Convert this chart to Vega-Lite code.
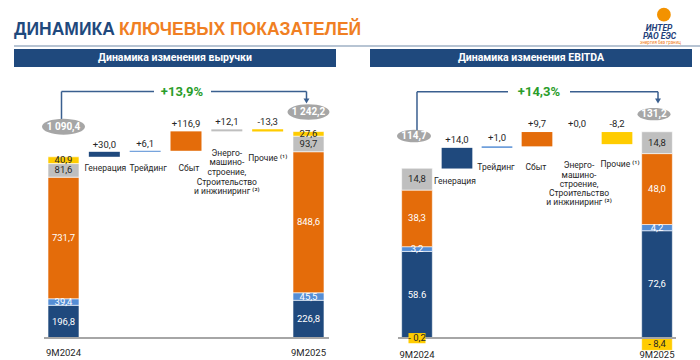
{
"$schema": "https://vega.github.io/schema/vega-lite/v6.json",
"background": "white",
"padding": {"left": 13, "top": 0, "right": 0, "bottom": 0},
"bounds": "flush",
"spacing": 3,
"config": {"view": {"stroke": null}, "font": "Roboto"},
"datasets": {
 "revStack": [
  {"x": "9M2024", "seg": "Генерация", "o": 1, "v": 196.8, "lbl": "196,8"},
  {"x": "9M2024", "seg": "Трейдинг", "o": 2, "v": 39.4, "lbl": "39,4"},
  {"x": "9M2024", "seg": "Сбыт", "o": 3, "v": 731.7, "lbl": "731,7"},
  {"x": "9M2024", "seg": "Энерго", "o": 4, "v": 81.6, "lbl": "81,6"},
  {"x": "9M2024", "seg": "Прочие", "o": 5, "v": 40.9, "lbl": "40,9"},
  {"x": "9M2025", "seg": "Генерация", "o": 1, "v": 226.8, "lbl": "226,8"},
  {"x": "9M2025", "seg": "Трейдинг", "o": 2, "v": 45.5, "lbl": "45,5"},
  {"x": "9M2025", "seg": "Сбыт", "o": 3, "v": 848.6, "lbl": "848,6"},
  {"x": "9M2025", "seg": "Энерго", "o": 4, "v": 93.7, "lbl": "93,7"},
  {"x": "9M2025", "seg": "Прочие", "o": 5, "v": 27.6, "lbl": "27,6"}
 ],
 "revWf": [
  {"x": "Генерация", "seg": "Генерация", "start": 1090.4, "end": 1120.4, "lbl": "+30,0", "cat": "Генерация"},
  {"x": "Трейдинг", "seg": "Трейдинг", "start": 1120.4, "end": 1126.5, "lbl": "+6,1", "cat": "Трейдинг"},
  {"x": "Сбыт", "seg": "Сбыт", "start": 1126.5, "end": 1243.4, "lbl": "+116,9", "cat": "Сбыт"},
  {"x": "Энерго", "seg": "Энерго", "start": 1243.4, "end": 1255.5, "lbl": "+12,1", "cat": ["Энерго-", "машино-", "строение,", "Строительство", "и инжиниринг ⁽²⁾"]},
  {"x": "Прочие", "seg": "Прочие", "start": 1255.5, "end": 1242.2, "lbl": "-13,3", "cat": "Прочие ⁽¹⁾"}
 ],
 "revTot": [
  {"x": "9M2024", "v": 1090.4, "lbl": "1 090,4"},
  {"x": "9M2025", "v": 1242.2, "lbl": "1 242,2"}
 ],
 "revPct": [{"lbl": "+13,9%"}],
 "ebStack": [
  {"x": "9M2024", "seg": "Генерация", "o": 1, "v": 58.6, "lbl": "58.6"},
  {"x": "9M2024", "seg": "Трейдинг", "o": 2, "v": 3.2, "lbl": "3,2"},
  {"x": "9M2024", "seg": "Сбыт", "o": 3, "v": 38.3, "lbl": "38,3"},
  {"x": "9M2024", "seg": "Энерго", "o": 4, "v": 14.8, "lbl": "14,8"},
  {"x": "9M2024", "seg": "Прочие", "o": 5, "v": -0.2, "lbl": "- 0,2"},
  {"x": "9M2025", "seg": "Генерация", "o": 1, "v": 72.6, "lbl": "72,6"},
  {"x": "9M2025", "seg": "Трейдинг", "o": 2, "v": 4.2, "lbl": "4,2"},
  {"x": "9M2025", "seg": "Сбыт", "o": 3, "v": 48.0, "lbl": "48,0"},
  {"x": "9M2025", "seg": "Энерго", "o": 4, "v": 14.8, "lbl": "14,8"},
  {"x": "9M2025", "seg": "Прочие", "o": 5, "v": -8.4, "lbl": "- 8,4"}
 ],
 "ebWf": [
  {"x": "Генерация", "seg": "Генерация", "start": 114.7, "end": 128.7, "lbl": "+14,0", "cat": "Генерация"},
  {"x": "Трейдинг", "seg": "Трейдинг", "start": 128.7, "end": 129.7, "lbl": "+1,0", "cat": "Трейдинг"},
  {"x": "Сбыт", "seg": "Сбыт", "start": 129.7, "end": 139.4, "lbl": "+9,7", "cat": "Сбыт"},
  {"x": "Энерго", "seg": "Энерго", "start": 139.4, "end": 139.4, "lbl": "+0,0", "cat": ["Энерго-", "машино-", "строение,", "Строительство", "и инжиниринг ⁽²⁾"]},
  {"x": "Прочие", "seg": "Прочие", "start": 139.4, "end": 131.2, "lbl": "-8,2", "cat": "Прочие ⁽¹⁾"}
 ],
 "ebTot": [
  {"x": "9M2024", "v": 114.7, "lbl": "114,7"},
  {"x": "9M2025", "v": 131.2, "lbl": "131,2"}
 ],
 "ebPct": [{"lbl": "+14,3%"}]
},
"vconcat": [
 {
  "width": 687, "height": 46,
  "data": {"values": [{}]},
  "layer": [
   {"mark": {"type": "rule", "color": "#9fb0c4", "strokeWidth": 1.5},
    "encoding": {"y": {"datum": 0, "type": "quantitative", "scale": {"domain": [0, 100]}, "axis": null}}},
   {"mark": {"type": "text", "text": "ДИНАМИКА", "align": "left", "baseline": "middle", "font": "Liberation Sans", "fontWeight": "bold", "fontSize": 17.5, "color": "#1f497d"},
    "encoding": {"x": {"datum": 0, "type": "quantitative", "scale": {"domain": [0, 100]}, "axis": null}, "y": {"datum": 35, "type": "quantitative", "axis": null}}},
   {"mark": {"type": "text", "text": "КЛЮЧЕВЫХ ПОКАЗАТЕЛЕЙ", "align": "left", "baseline": "middle", "font": "Liberation Sans", "fontWeight": "bold", "fontSize": 17.5, "color": "#f07f23"},
    "encoding": {"x": {"datum": 15.28, "type": "quantitative", "axis": null}, "y": {"datum": 35, "type": "quantitative", "axis": null}}},
   {"mark": {"type": "point", "shape": "circle", "filled": true, "opacity": 1, "size": 190, "color": "#f39200"},
    "encoding": {"x": {"datum": 94.6, "type": "quantitative", "axis": null}, "y": {"datum": 68, "type": "quantitative", "axis": null}}},
   {"mark": {"type": "text", "text": "ИНТЕР", "baseline": "middle", "fontWeight": "bold", "fontStyle": "italic", "fontSize": 8.5, "color": "#1f3f7a"},
    "encoding": {"x": {"datum": 93.9, "type": "quantitative", "axis": null}, "y": {"datum": 40, "type": "quantitative", "axis": null}}},
   {"mark": {"type": "text", "text": "РАО ЕЭС", "baseline": "middle", "fontWeight": "bold", "fontStyle": "italic", "fontSize": 8.5, "color": "#1f3f7a"},
    "encoding": {"x": {"datum": 93.96, "type": "quantitative", "axis": null}, "y": {"datum": 21, "type": "quantitative", "axis": null}}},
   {"mark": {"type": "text", "text": "энергия без границ", "baseline": "middle", "fontSize": 4.5, "color": "#f07f23"},
    "encoding": {"x": {"datum": 94.1, "type": "quantitative", "axis": null}, "y": {"datum": 6, "type": "quantitative", "axis": null}}}
  ]
 },
 {
  "hconcat": [
   {
    "width": 322, "height": 289,
    "data": {"values": [{}]},
    "layer": [
     {"mark": {"type": "rect", "color": "#1f497d"},
      "encoding": {"y": {"datum": 1739, "type": "quantitative", "scale": {"domain": [0, 1739], "nice": false, "zero": false},
        "axis": {"title": "млрд рублей", "titleAngle": 0, "titleAlign": "left", "titleBaseline": "middle", "titleX": 2, "titleY": 29, "titleFontSize": 9, "titleFontWeight": "bold", "titleColor": "#1a1a1a", "labels": false, "ticks": false, "domain": false, "grid": false}},
       "y2": {"datum": 1630.6}}},
     {"mark": {"type": "text", "text": "Динамика изменения выручки", "color": "white", "fontWeight": "bold", "fontSize": 10.5, "baseline": "middle"},
      "encoding": {"y": {"datum": 1684.7, "type": "quantitative", "axis": null}}},
     {"data": {"name": "revStack"},
      "mark": {"type": "bar", "stroke": "white", "strokeWidth": 0.6},
      "encoding": {
       "x": {"field": "x", "type": "nominal", "scale": {"domain": ["9M2024", "Генерация", "Трейдинг", "Сбыт", "Энерго", "Прочие", "9M2025"], "paddingInner": 0.241, "paddingOuter": 0.5635, "align": 0.739}, "axis": null},
       "y": {"field": "v", "type": "quantitative", "stack": "zero", "axis": null},
       "color": {"field": "seg", "type": "nominal", "scale": {"domain": ["Генерация", "Трейдинг", "Сбыт", "Энерго", "Прочие"], "range": ["#1f497d", "#558ed5", "#e46c0a", "#bfbfbf", "#ffcc00"]}, "legend": null},
       "order": {"field": "o", "type": "quantitative"}}},
     {"data": {"name": "revStack"},
      "mark": {"type": "text", "fontSize": 9.5, "baseline": "middle"},
      "encoding": {
       "x": {"field": "x", "type": "nominal", "axis": null},
       "y": {"field": "v", "type": "quantitative", "stack": "zero", "bandPosition": 0.5, "axis": null},
       "detail": {"field": "seg", "type": "nominal"},
       "order": {"field": "o", "type": "quantitative"},
       "text": {"field": "lbl"},
       "color": {"condition": {"test": "datum.o>=4", "value": "#262626"}, "value": "white"}}},
     {"data": {"name": "revWf"},
      "mark": {"type": "bar"},
      "encoding": {
       "x": {"field": "x", "type": "nominal", "axis": null},
       "y": {"field": "start", "type": "quantitative", "axis": null},
       "y2": {"field": "end"},
       "color": {"field": "seg", "type": "nominal", "legend": null}}},
     {"data": {"name": "revWf"}, "transform": [{"filter": "datum.end>=datum.start"}],
      "mark": {"type": "text", "fontSize": 9.5, "baseline": "bottom", "dy": -2, "color": "#262626"},
      "encoding": {"x": {"field": "x", "type": "nominal", "axis": null}, "y": {"field": "end", "type": "quantitative", "axis": null}, "text": {"field": "lbl"}}},
     {"data": {"name": "revWf"}, "transform": [{"filter": "datum.end<datum.start"}],
      "mark": {"type": "text", "fontSize": 9.5, "baseline": "bottom", "dy": -2, "color": "#262626"},
      "encoding": {"x": {"field": "x", "type": "nominal", "axis": null}, "y": {"field": "start", "type": "quantitative", "axis": null}, "text": {"field": "lbl"}}},
     {"data": {"name": "revWf"}, "transform": [{"filter": "datum.x=='Генерация'"}],
      "mark": {"type": "text", "fontSize": 8.5, "baseline": "middle", "color": "#262626", "dx": 1},
      "encoding": {"x": {"field": "x", "type": "nominal", "axis": null}, "y": {"datum": 1022.9, "type": "quantitative", "axis": null}, "text": {"field": "cat"}}},
     {"data": {"name": "revWf"}, "transform": [{"filter": "datum.x=='Трейдинг'||datum.x=='Сбыт'"}],
      "mark": {"type": "text", "fontSize": 8.5, "baseline": "middle", "color": "#262626", "dx": 3},
      "encoding": {"x": {"field": "x", "type": "nominal", "axis": null}, "y": {"datum": 1022.9, "type": "quantitative", "axis": null}, "text": {"field": "cat"}}},
     {"data": {"name": "revWf"}, "transform": [{"filter": "datum.x=='Энерго'"}],
      "mark": {"type": "text", "fontSize": 8.5, "baseline": "top", "lineHeight": 9.7, "color": "#262626"},
      "encoding": {"x": {"field": "x", "type": "nominal", "axis": null}, "y": {"datum": 1140.2, "type": "quantitative", "axis": null}, "text": {"field": "cat"}}},
     {"data": {"name": "revWf"}, "transform": [{"filter": "datum.x=='Прочие'"}],
      "mark": {"type": "text", "fontSize": 8.5, "baseline": "middle", "color": "#262626"},
      "encoding": {"x": {"field": "x", "type": "nominal", "axis": null}, "y": {"datum": 1083, "type": "quantitative", "axis": null}, "text": {"field": "cat"}}},
     {"mark": {"type": "rule", "color": "#a6a6a6", "strokeWidth": 2, "xOffset": -19.5, "x2Offset": 20.5},
      "encoding": {"x": {"datum": "9M2024", "type": "nominal", "axis": null}, "x2": {"datum": "9M2025"}, "y": {"datum": 0, "type": "quantitative", "axis": null}}},
     {"data": {"name": "revTot"},
      "mark": {"type": "text", "fontSize": 9.5, "baseline": "middle", "dy": 15, "color": "#262626"},
      "encoding": {"x": {"field": "x", "type": "nominal", "axis": null}, "y": {"datum": 0, "type": "quantitative", "axis": null}, "text": {"field": "x"}}},
     {"mark": {"type": "rule", "color": "#3a5f8f", "strokeWidth": 1.5, "xOffset": -2},
      "encoding": {"x": {"datum": "9M2024", "type": "nominal", "axis": null}, "y": {"datum": 1314.7, "type": "quantitative", "axis": null}, "y2": {"datum": 1483.2}}},
     {"mark": {"type": "rule", "color": "#3a5f8f", "strokeWidth": 1.5, "xOffset": -2, "x2Offset": -32},
      "encoding": {"x": {"datum": "9M2024", "type": "nominal", "axis": null}, "x2": {"datum": "Сбыт"}, "y": {"datum": 1483.2, "type": "quantitative", "axis": null}}},
     {"mark": {"type": "rule", "color": "#3a5f8f", "strokeWidth": 1.5, "xOffset": 25, "x2Offset": -2},
      "encoding": {"x": {"datum": "Сбыт", "type": "nominal", "axis": null}, "x2": {"datum": "9M2025"}, "y": {"datum": 1483.2, "type": "quantitative", "axis": null}}},
     {"mark": {"type": "rule", "color": "#3a5f8f", "strokeWidth": 1.5, "xOffset": -2},
      "encoding": {"x": {"datum": "9M2025", "type": "nominal", "axis": null}, "y": {"datum": 1483.2, "type": "quantitative", "axis": null}, "y2": {"datum": 1432}}},
     {"mark": {"type": "point", "shape": "triangle-down", "filled": true, "opacity": 1, "size": 35, "color": "#3a5f8f", "xOffset": -2},
      "encoding": {"x": {"datum": "9M2025", "type": "nominal", "axis": null}, "y": {"datum": 1426, "type": "quantitative", "axis": null}}},
     {"data": {"name": "revPct"},
      "mark": {"type": "text", "fontSize": 13, "fontWeight": "bold", "color": "#2a9d2a", "baseline": "middle", "dx": -4},
      "encoding": {"x": {"datum": "Сбыт", "type": "nominal", "axis": null}, "y": {"datum": 1482, "type": "quantitative", "axis": null}, "text": {"field": "lbl"}}},
     {"data": {"name": "revTot"}, "transform": [{"filter": "datum.x=='9M2024'"}],
      "layer": [
       {"mark": {"type": "point", "shape": "M-1,0C-1,-0.204,-0.552,-0.37,0,-0.37C0.552,-0.37,1,-0.204,1,0C1,0.204,0.552,0.37,0,0.37C-0.552,0.37,-1,0.204,-1,0Z", "size": 1849, "filled": true, "opacity": 1, "color": "#a6a6a6", "yOffset": -30},
        "encoding": {"x": {"field": "x", "type": "nominal", "axis": null}, "y": {"field": "v", "type": "quantitative", "axis": null}}},
       {"mark": {"type": "text", "color": "white", "fontWeight": "bold", "fontSize": 10, "baseline": "middle", "yOffset": -30},
        "encoding": {"x": {"field": "x", "type": "nominal", "axis": null}, "y": {"field": "v", "type": "quantitative", "axis": null}, "text": {"field": "lbl"}}}
      ]},
     {"data": {"name": "revTot"}, "transform": [{"filter": "datum.x=='9M2025'"}],
      "layer": [
       {"mark": {"type": "point", "shape": "M-1,0C-1,-0.204,-0.552,-0.37,0,-0.37C0.552,-0.37,1,-0.204,1,0C1,0.204,0.552,0.37,0,0.37C-0.552,0.37,-1,0.204,-1,0Z", "size": 1764, "filled": true, "opacity": 1, "color": "#a6a6a6", "yOffset": -19.5},
        "encoding": {"x": {"field": "x", "type": "nominal", "axis": null}, "y": {"field": "v", "type": "quantitative", "axis": null}}},
       {"mark": {"type": "text", "color": "white", "fontWeight": "bold", "fontSize": 10, "baseline": "middle", "yOffset": -19.5},
        "encoding": {"x": {"field": "x", "type": "nominal", "axis": null}, "y": {"field": "v", "type": "quantitative", "axis": null}, "text": {"field": "lbl"}}}
      ]}
    ]
   },
   {
    "width": 322, "height": 289,
    "data": {"values": [{}]},
    "layer": [
     {"mark": {"type": "rect", "color": "#1f497d"},
      "encoding": {"y": {"datum": 195.6, "type": "quantitative", "scale": {"domain": [0, 195.6], "nice": false, "zero": false},
        "axis": {"title": "млрд рублей", "titleAngle": 0, "titleAlign": "left", "titleBaseline": "middle", "titleX": 2, "titleY": 29, "titleFontSize": 9, "titleFontWeight": "bold", "titleColor": "#1a1a1a", "labels": false, "ticks": false, "domain": false, "grid": false}},
       "y2": {"datum": 183.4}}},
     {"mark": {"type": "text", "text": "Динамика изменения EBITDA", "color": "white", "fontWeight": "bold", "fontSize": 10.5, "baseline": "middle"},
      "encoding": {"y": {"datum": 189.5, "type": "quantitative", "axis": null}}},
     {"data": {"name": "ebStack"},
      "mark": {"type": "bar", "stroke": "white", "strokeWidth": 0.6},
      "encoding": {
       "x": {"field": "x", "type": "nominal", "scale": {"domain": ["9M2024", "Генерация", "Трейдинг", "Сбыт", "Энерго", "Прочие", "9M2025"], "paddingInner": 0.2325, "paddingOuter": 0.641, "align": 0.617}, "axis": null},
       "y": {"field": "v", "type": "quantitative", "stack": "zero", "axis": null},
       "color": {"field": "seg", "type": "nominal", "scale": {"domain": ["Генерация", "Трейдинг", "Сбыт", "Энерго", "Прочие"], "range": ["#1f497d", "#558ed5", "#e46c0a", "#bfbfbf", "#ffcc00"]}, "legend": null},
       "order": {"field": "o", "type": "quantitative"}}},
     {"mark": {"type": "rule", "color": "#a6a6a6", "strokeWidth": 2, "xOffset": -19, "x2Offset": 19},
      "encoding": {"x": {"datum": "9M2024", "type": "nominal", "axis": null}, "x2": {"datum": "9M2025"}, "y": {"datum": 0, "type": "quantitative", "axis": null}}},
     {"data": {"name": "ebStack"}, "transform": [{"filter": "datum.v<0"}],
      "mark": {"type": "point", "shape": "M-1,-0.6L1,-0.6L1,0.6L-1,0.6Z", "size": 289, "filled": true, "opacity": 1, "color": "#ffcc00"},
      "encoding": {
       "x": {"field": "x", "type": "nominal", "axis": null},
       "y": {"field": "v", "type": "quantitative", "stack": "zero", "bandPosition": 0.5, "axis": null},
       "detail": {"field": "seg", "type": "nominal"}}},
     {"data": {"name": "ebStack"},
      "mark": {"type": "text", "fontSize": 9.5, "baseline": "middle"},
      "encoding": {
       "x": {"field": "x", "type": "nominal", "axis": null},
       "y": {"field": "v", "type": "quantitative", "stack": "zero", "bandPosition": 0.5, "axis": null},
       "detail": {"field": "seg", "type": "nominal"},
       "order": {"field": "o", "type": "quantitative"},
       "text": {"field": "lbl"},
       "color": {"condition": {"test": "datum.o>=4", "value": "#262626"}, "value": "white"}}},
     {"data": {"name": "ebWf"},
      "mark": {"type": "bar"},
      "encoding": {
       "x": {"field": "x", "type": "nominal", "axis": null},
       "y": {"field": "start", "type": "quantitative", "axis": null},
       "y2": {"field": "end"},
       "color": {"field": "seg", "type": "nominal", "legend": null}}},
     {"data": {"name": "ebWf"}, "transform": [{"filter": "datum.end>=datum.start"}],
      "mark": {"type": "text", "fontSize": 9.5, "baseline": "bottom", "dy": -3, "color": "#262626"},
      "encoding": {"x": {"field": "x", "type": "nominal", "axis": null}, "y": {"field": "end", "type": "quantitative", "axis": null}, "text": {"field": "lbl"}}},
     {"data": {"name": "ebWf"}, "transform": [{"filter": "datum.end<datum.start"}],
      "mark": {"type": "text", "fontSize": 9.5, "baseline": "bottom", "dy": -3, "color": "#262626"},
      "encoding": {"x": {"field": "x", "type": "nominal", "axis": null}, "y": {"field": "start", "type": "quantitative", "axis": null}, "text": {"field": "lbl"}}},
     {"data": {"name": "ebWf"}, "transform": [{"filter": "datum.x=='Генерация'"}],
      "mark": {"type": "text", "fontSize": 8.5, "baseline": "middle", "color": "#262626", "dx": -2},
      "encoding": {"x": {"field": "x", "type": "nominal", "axis": null}, "y": {"datum": 106.2, "type": "quantitative", "axis": null}, "text": {"field": "cat"}}},
     {"data": {"name": "ebWf"}, "transform": [{"filter": "datum.x=='Трейдинг'||datum.x=='Сбыт'"}],
      "mark": {"type": "text", "fontSize": 8.5, "baseline": "middle", "color": "#262626", "dx": -1},
      "encoding": {"x": {"field": "x", "type": "nominal", "axis": null}, "y": {"datum": 115.5, "type": "quantitative", "axis": null}, "text": {"field": "cat"}}},
     {"data": {"name": "ebWf"}, "transform": [{"filter": "datum.x=='Энерго'"}],
      "mark": {"type": "text", "fontSize": 8.5, "baseline": "top", "lineHeight": 9.3, "color": "#262626", "dx": 2},
      "encoding": {"x": {"field": "x", "type": "nominal", "axis": null}, "y": {"datum": 119.6, "type": "quantitative", "axis": null}, "text": {"field": "cat"}}},
     {"data": {"name": "ebWf"}, "transform": [{"filter": "datum.x=='Прочие'"}],
      "mark": {"type": "text", "fontSize": 8.5, "baseline": "middle", "color": "#262626", "dx": 3},
      "encoding": {"x": {"field": "x", "type": "nominal", "axis": null}, "y": {"datum": 117.8, "type": "quantitative", "axis": null}, "text": {"field": "cat"}}},
     {"data": {"name": "ebTot"},
      "mark": {"type": "text", "fontSize": 9.5, "baseline": "middle", "dy": 17, "color": "#262626"},
      "encoding": {"x": {"field": "x", "type": "nominal", "axis": null}, "y": {"datum": 0, "type": "quantitative", "axis": null}, "text": {"field": "x"}}},
     {"mark": {"type": "rule", "color": "#3a5f8f", "strokeWidth": 1.5},
      "encoding": {"x": {"datum": "9M2024", "type": "nominal", "axis": null}, "y": {"datum": 140.8, "type": "quantitative", "axis": null}, "y2": {"datum": 166.7}}},
     {"mark": {"type": "rule", "color": "#3a5f8f", "strokeWidth": 1.5, "x2Offset": -29},
      "encoding": {"x": {"datum": "9M2024", "type": "nominal", "axis": null}, "x2": {"datum": "Сбыт"}, "y": {"datum": 166.7, "type": "quantitative", "axis": null}}},
     {"mark": {"type": "rule", "color": "#3a5f8f", "strokeWidth": 1.5, "xOffset": 33, "x2Offset": 1},
      "encoding": {"x": {"datum": "Сбыт", "type": "nominal", "axis": null}, "x2": {"datum": "9M2025"}, "y": {"datum": 166.7, "type": "quantitative", "axis": null}}},
     {"mark": {"type": "rule", "color": "#3a5f8f", "strokeWidth": 1.5, "xOffset": 1},
      "encoding": {"x": {"datum": "9M2025", "type": "nominal", "axis": null}, "y": {"datum": 166.7, "type": "quantitative", "axis": null}, "y2": {"datum": 161.1}}},
     {"mark": {"type": "point", "shape": "triangle-down", "filled": true, "opacity": 1, "size": 35, "color": "#3a5f8f", "xOffset": 1},
      "encoding": {"x": {"datum": "9M2025", "type": "nominal", "axis": null}, "y": {"datum": 160.4, "type": "quantitative", "axis": null}}},
     {"data": {"name": "ebPct"},
      "mark": {"type": "text", "fontSize": 13, "fontWeight": "bold", "color": "#2a9d2a", "baseline": "middle", "dx": 2},
      "encoding": {"x": {"datum": "Сбыт", "type": "nominal", "axis": null}, "y": {"datum": 166.5, "type": "quantitative", "axis": null}, "text": {"field": "lbl"}}},
     {"data": {"name": "ebTot"}, "transform": [{"filter": "datum.x=='9M2024'"}],
      "layer": [
       {"mark": {"type": "point", "shape": "M-1,0C-1,-0.204,-0.552,-0.37,0,-0.37C0.552,-0.37,1,-0.204,1,0C1,0.204,0.552,0.37,0,0.37C-0.552,0.37,-1,0.204,-1,0Z", "size": 1156, "filled": true, "opacity": 1, "color": "#a6a6a6", "yOffset": -32.5, "xOffset": -3},
        "encoding": {"x": {"field": "x", "type": "nominal", "axis": null}, "y": {"field": "v", "type": "quantitative", "axis": null}}},
       {"mark": {"type": "text", "color": "white", "fontWeight": "bold", "fontSize": 10, "baseline": "middle", "yOffset": -32.5, "xOffset": -3},
        "encoding": {"x": {"field": "x", "type": "nominal", "axis": null}, "y": {"field": "v", "type": "quantitative", "axis": null}, "text": {"field": "lbl"}}}
      ]},
     {"data": {"name": "ebTot"}, "transform": [{"filter": "datum.x=='9M2025'"}],
      "layer": [
       {"mark": {"type": "point", "shape": "M-1,0C-1,-0.204,-0.552,-0.37,0,-0.37C0.552,-0.37,1,-0.204,1,0C1,0.204,0.552,0.37,0,0.37C-0.552,0.37,-1,0.204,-1,0Z", "size": 1089, "filled": true, "opacity": 1, "color": "#a6a6a6", "yOffset": -30, "xOffset": -3},
        "encoding": {"x": {"field": "x", "type": "nominal", "axis": null}, "y": {"field": "v", "type": "quantitative", "axis": null}}},
       {"mark": {"type": "text", "color": "white", "fontWeight": "bold", "fontSize": 10, "baseline": "middle", "yOffset": -30, "xOffset": -3},
        "encoding": {"x": {"field": "x", "type": "nominal", "axis": null}, "y": {"field": "v", "type": "quantitative", "axis": null}, "text": {"field": "lbl"}}}
      ]}
    ]
   }
  ],
  "spacing": 34,
  "bounds": "flush"
 }
]
}
